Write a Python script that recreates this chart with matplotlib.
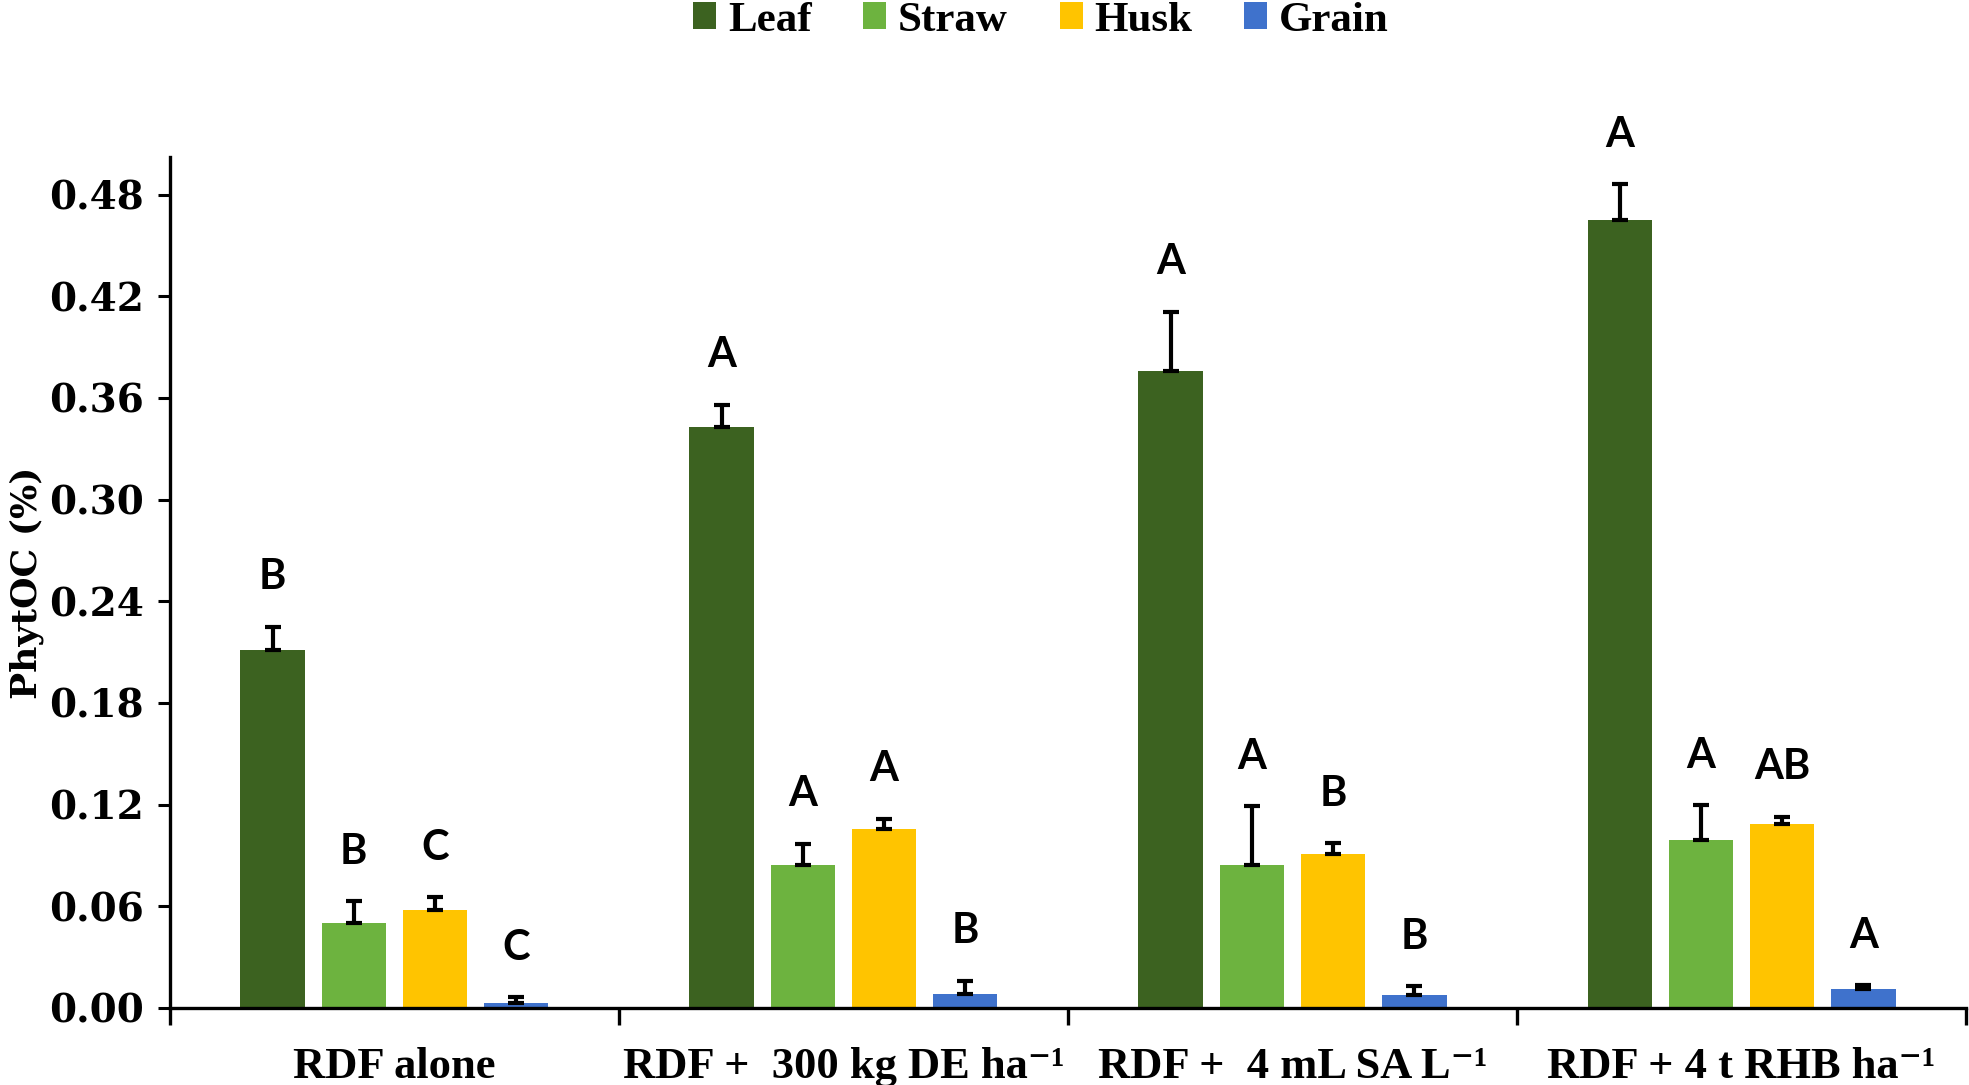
import numpy as np
import matplotlib
matplotlib.use('Agg')
import matplotlib.pyplot as plt
import matplotlib.ticker as ticker

# Treatments on the x axis
treatments = ['RDF alone', 'RDF +  300 kg DE ha⁻¹', 'RDF +  4 mL SA L⁻¹', 'RDF + 4 t RHB ha⁻¹']
parts = ['Leaf', 'Straw', 'Husk', 'Grain']

# PhytOC (%) means and standard errors
leaf = [0.211, 0.343, 0.376, 0.465]
leaf_err = [0.014, 0.013, 0.035, 0.021]
straw = [0.050, 0.0845, 0.0843, 0.099]
straw_err = [0.013, 0.0125, 0.035, 0.0205]
husk = [0.0576, 0.1057, 0.0906, 0.1087]
husk_err = [0.008, 0.006, 0.0065, 0.0042]
grain = [0.0032, 0.0082, 0.0076, 0.0109]
grain_err = [0.003, 0.008, 0.0053, 0.0026]

# Significance letters
leaf_sig = ['B', 'A', 'A', 'A']
straw_sig = ['B', 'A', 'A', 'A']
husk_sig = ['C', 'A', 'B', 'AB']
grain_sig = ['C', 'B', 'B', 'A']

colors = ['#3c6220', '#6db33f', '#ffc400', '#3f72cc']

SERIF = ['Liberation Serif', 'DejaVu Serif']


def plot_bars(output_file):
    fig = plt.figure(figsize=(19.69, 10.85), dpi=100)
    ax = fig.add_axes([0.0863, 0.071, 0.9122, 0.784])

    series = [leaf, straw, husk, grain]
    errors = [leaf_err, straw_err, husk_err, grain_err]
    sigs = [leaf_sig, straw_sig, husk_sig, grain_sig]

    x = np.arange(len(treatments)) + 0.5
    step = 0.181
    width = 0.143

    for i, (vals, errs, sig) in enumerate(zip(series, errors, sigs)):
        pos = x + (i - 1.5) * step
        vals = np.array(vals)
        errs = np.array(errs)
        ax.bar(pos, vals, width, color=colors[i], label=parts[i], zorder=2)
        ax.errorbar(pos, vals, yerr=[np.zeros_like(errs), errs], fmt='none',
                    ecolor='black', elinewidth=3, capsize=6, capthick=3, zorder=3)
        for px, top, s in zip(pos, vals + errs, sig):
            ax.text(px, top + 0.022, s, ha='center', va='baseline',
                    fontsize=30, fontweight='bold', family='Lato')

    ax.set_xlim(0, 4)
    ax.set_ylim(0, 0.502)

    # y axis
    ax.yaxis.set_major_locator(ticker.MultipleLocator(0.06))
    ax.yaxis.set_major_formatter(ticker.FormatStrFormatter('%.2f'))
    ax.tick_params(axis='y', direction='out', length=9, width=2.2, pad=10)
    for lab in ax.get_yticklabels():
        lab.set_fontfamily('DejaVu Serif')
        lab.set_fontweight('bold')
        lab.set_fontsize(28)
    ax.set_ylabel('PhytOC (%)', fontsize=26, fontweight='bold', family='DejaVu Serif',
                  va='center')
    ax.yaxis.set_label_coords(-0.080, 0.5)

    # x axis: separators as major ticks, names as minor ticks
    ax.set_xticks(np.arange(0, 5))
    ax.set_xticklabels([])
    ax.set_xticks(x, minor=True)
    ax.set_xticklabels(treatments, minor=True, fontsize=32, fontweight='bold', family=SERIF)
    ax.tick_params(axis='x', which='major', direction='out', length=12, width=2.4)
    ax.tick_params(axis='x', which='minor', length=0, pad=28)

    for side in ['top', 'right']:
        ax.spines[side].set_visible(False)
    for side in ['left', 'bottom']:
        ax.spines[side].set_linewidth(2.4)

    fig.legend(loc='center', bbox_to_anchor=(0.5287, 0.981), ncol=4, frameon=False,
               prop={'family': SERIF, 'weight': 'bold', 'size': 31},
               handlelength=0.53, handleheight=0.58, handletextpad=0.28,
               columnspacing=1.2, borderpad=0)

    fig.savefig(output_file, dpi=100)
    plt.close(fig)


def main():
    plot_bars('out.png')


if __name__ == "__main__":
    main()
